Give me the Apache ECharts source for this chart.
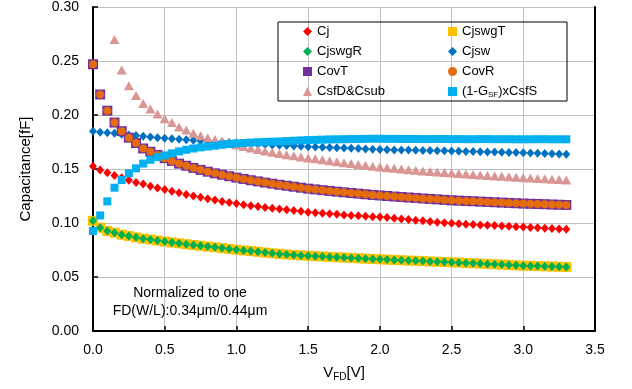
<!DOCTYPE html>
<html>
<head>
<meta charset="utf-8">
<script src="https://cdn.jsdelivr.net/npm/echarts@6/dist/echarts.min.js"></script>
<style>
  html, body { margin: 0; padding: 0; background: #fff; }
  #chart { width: 632px; height: 389px; }
</style>
</head>
<body>
<div id="chart"></div>
<script>
  // V_FD sweep [V]
  const vfd = [
    0.00, 0.05, 0.10, 0.15, 0.20, 0.25, 0.30, 0.35, 0.40, 0.45,
    0.50, 0.55, 0.60, 0.65, 0.70, 0.75, 0.80, 0.85, 0.90, 0.95,
    1.00, 1.05, 1.10, 1.15, 1.20, 1.25, 1.30, 1.35, 1.40, 1.45,
    1.50, 1.55, 1.60, 1.65, 1.70, 1.75, 1.80, 1.85, 1.90, 1.95,
    2.00, 2.05, 2.10, 2.15, 2.20, 2.25, 2.30, 2.35, 2.40, 2.45,
    2.50, 2.55, 2.60, 2.65, 2.70, 2.75, 2.80, 2.85, 2.90, 2.95,
    3.00, 3.05, 3.10, 3.15, 3.20, 3.25, 3.30
  ];

  const cj = [
    0.1525, 0.1490, 0.1466, 0.1440, 0.1420, 0.1395, 0.1375, 0.1360, 0.1340, 0.1325,
    0.1310, 0.1295, 0.1280, 0.1265, 0.1250, 0.1238, 0.1225, 0.1213, 0.1200, 0.1190,
    0.1180, 0.1170, 0.1160, 0.1152, 0.1144, 0.1137, 0.1130, 0.1122, 0.1115, 0.1108,
    0.1100, 0.1095, 0.1090, 0.1085, 0.1080, 0.1075, 0.1070, 0.1066, 0.1062, 0.1059,
    0.1056, 0.1050, 0.1044, 0.1038, 0.1032, 0.1026, 0.1020, 0.1014, 0.1008, 0.1002,
    0.0997, 0.0993, 0.0989, 0.0986, 0.0982, 0.0979, 0.0976, 0.0972, 0.0969, 0.0966,
    0.0963, 0.0959, 0.0955, 0.0951, 0.0948, 0.0944, 0.0941
  ];

  const cjswgT = [
    0.1020, 0.0957, 0.0926, 0.0910, 0.0892, 0.0880, 0.0867, 0.0855, 0.0847, 0.0838,
    0.0828, 0.0820, 0.0812, 0.0804, 0.0796, 0.0789, 0.0782, 0.0775, 0.0768, 0.0759,
    0.0752, 0.0746, 0.0740, 0.0733, 0.0726, 0.0720, 0.0714, 0.0709, 0.0704, 0.0700,
    0.0697, 0.0693, 0.0690, 0.0686, 0.0683, 0.0680, 0.0677, 0.0673, 0.0670, 0.0667,
    0.0664, 0.0661, 0.0658, 0.0655, 0.0652, 0.0650, 0.0647, 0.0644, 0.0641, 0.0639,
    0.0636, 0.0633, 0.0630, 0.0627, 0.0624, 0.0621, 0.0618, 0.0615, 0.0612, 0.0608,
    0.0605, 0.0603, 0.0601, 0.0599, 0.0597, 0.0595, 0.0593
  ];

  const cjswgR = [
    0.1020, 0.0957, 0.0926, 0.0910, 0.0892, 0.0880, 0.0867, 0.0855, 0.0847, 0.0838,
    0.0828, 0.0820, 0.0812, 0.0804, 0.0796, 0.0789, 0.0782, 0.0775, 0.0768, 0.0759,
    0.0752, 0.0746, 0.0740, 0.0733, 0.0726, 0.0720, 0.0714, 0.0709, 0.0704, 0.0700,
    0.0697, 0.0693, 0.0690, 0.0686, 0.0683, 0.0680, 0.0677, 0.0673, 0.0670, 0.0667,
    0.0664, 0.0661, 0.0658, 0.0655, 0.0652, 0.0650, 0.0647, 0.0644, 0.0641, 0.0639,
    0.0636, 0.0633, 0.0630, 0.0627, 0.0624, 0.0621, 0.0618, 0.0615, 0.0612, 0.0608,
    0.0605, 0.0603, 0.0601, 0.0599, 0.0597, 0.0595, 0.0593
  ];

  const cjsw = [
    0.1850, 0.1840, 0.1835, 0.1830, 0.1822, 0.1815, 0.1810, 0.1803, 0.1797, 0.1790,
    0.1784, 0.1780, 0.1775, 0.1770, 0.1766, 0.1762, 0.1757, 0.1753, 0.1749, 0.1745,
    0.1741, 0.1737, 0.1733, 0.1730, 0.1726, 0.1723, 0.1720, 0.1717, 0.1713, 0.1710,
    0.1707, 0.1704, 0.1701, 0.1699, 0.1696, 0.1694, 0.1691, 0.1689, 0.1686, 0.1683,
    0.1680, 0.1679, 0.1677, 0.1676, 0.1675, 0.1673, 0.1672, 0.1671, 0.1669, 0.1668,
    0.1667, 0.1665, 0.1663, 0.1662, 0.1660, 0.1658, 0.1657, 0.1655, 0.1653, 0.1652,
    0.1650, 0.1648, 0.1646, 0.1643, 0.1641, 0.1638, 0.1636
  ];

  const covT = [
    0.2470, 0.2190, 0.2040, 0.1930, 0.1850, 0.1790, 0.1740, 0.1690, 0.1660, 0.1630,
    0.1600, 0.1575, 0.1550, 0.1530, 0.1510, 0.1492, 0.1475, 0.1460, 0.1447, 0.1433,
    0.1420, 0.1408, 0.1396, 0.1385, 0.1374, 0.1364, 0.1354, 0.1345, 0.1336, 0.1327,
    0.1318, 0.1311, 0.1304, 0.1297, 0.1290, 0.1284, 0.1278, 0.1272, 0.1266, 0.1260,
    0.1255, 0.1250, 0.1245, 0.1241, 0.1236, 0.1232, 0.1227, 0.1223, 0.1219, 0.1214,
    0.1210, 0.1207, 0.1204, 0.1201, 0.1198, 0.1195, 0.1192, 0.1189, 0.1186, 0.1183,
    0.1180, 0.1178, 0.1176, 0.1174, 0.1171, 0.1169, 0.1167
  ];

  const covR = [
    0.2470, 0.2190, 0.2040, 0.1930, 0.1850, 0.1790, 0.1740, 0.1690, 0.1660, 0.1630,
    0.1600, 0.1575, 0.1550, 0.1530, 0.1510, 0.1492, 0.1475, 0.1460, 0.1447, 0.1433,
    0.1420, 0.1408, 0.1396, 0.1385, 0.1374, 0.1364, 0.1354, 0.1345, 0.1336, 0.1327,
    0.1318, 0.1311, 0.1304, 0.1297, 0.1290, 0.1284, 0.1278, 0.1272, 0.1266, 0.1260,
    0.1255, 0.1250, 0.1245, 0.1241, 0.1236, 0.1232, 0.1227, 0.1223, 0.1219, 0.1214,
    0.1210, 0.1207, 0.1204, 0.1201, 0.1198, 0.1195, 0.1192, 0.1189, 0.1186, 0.1183,
    0.1180, 0.1178, 0.1176, 0.1174, 0.1171, 0.1169, 0.1167
  ];

  // first points lie above the 0.30 axis max
  const csfD = [
    null, null, null, 0.2700, 0.2417, 0.2270, 0.2180, 0.2107, 0.2055, 0.2010,
    0.1966, 0.1930, 0.1890, 0.1860, 0.1830, 0.1808, 0.1790, 0.1772, 0.1755, 0.1738,
    0.1722, 0.1708, 0.1694, 0.1680, 0.1667, 0.1655, 0.1643, 0.1632, 0.1622, 0.1612,
    0.1603, 0.1594, 0.1585, 0.1576, 0.1567, 0.1558, 0.1550, 0.1542, 0.1534, 0.1526,
    0.1518, 0.1512, 0.1506, 0.1500, 0.1494, 0.1488, 0.1482, 0.1477, 0.1472, 0.1468,
    0.1464, 0.1459, 0.1454, 0.1450, 0.1445, 0.1440, 0.1436, 0.1432, 0.1428, 0.1424,
    0.1420, 0.1417, 0.1413, 0.1410, 0.1406, 0.1402, 0.1398
  ];

  const csfS = [
    0.0926, 0.1070, 0.1200, 0.1327, 0.1398, 0.1460, 0.1506, 0.1550, 0.1585, 0.1610,
    0.1625, 0.1645, 0.1663, 0.1678, 0.1690, 0.1700, 0.1708, 0.1716, 0.1724, 0.1731,
    0.1737, 0.1741, 0.1745, 0.1748, 0.1751, 0.1753, 0.1755, 0.1759, 0.1762, 0.1765,
    0.1768, 0.1770, 0.1772, 0.1774, 0.1775, 0.1776, 0.1777, 0.1778, 0.1779, 0.1780,
    0.1780, 0.1779, 0.1779, 0.1778, 0.1778, 0.1778, 0.1777, 0.1777, 0.1778, 0.1778,
    0.1777, 0.1777, 0.1776, 0.1776, 0.1777, 0.1777, 0.1776, 0.1776, 0.1776, 0.1775,
    0.1775, 0.1775, 0.1776, 0.1776, 0.1775, 0.1775, 0.1775
  ];

  const font = "'Liberation Sans', Arial, sans-serif";
  const pairs = (ys) => vfd.map((x, i) => [x, ys[i]]);

  const chart = echarts.init(document.getElementById("chart"));

  const mk = (name, ys, symbol, size, color) => ({
    name: name,
    type: "scatter",
    data: pairs(ys),
    symbol: symbol,
    symbolSize: size,
    itemStyle: { color: color, opacity: 1 },
    silent: true,
    animation: false,
  });

  const legendText = {
    fontFamily: font, fontSize: 13, color: "#000", lineHeight: 15,
    rich: { sub: { fontFamily: font, fontSize: 8, color: "#000", lineHeight: 15, padding: [6, 0, 0, 0] } },
  };

  const legendFmt = (n) => n === "(1-GSF)xCsfS" ? "(1-G{sub|SF})xCsfS" : n;

  const legendBase = {
    orient: "vertical",
    top: 24,
    padding: 0,
    itemWidth: 9, itemHeight: 9, itemGap: 5,
    textStyle: legendText,
    formatter: legendFmt,
    selectedMode: false,
  };

  chart.setOption({
    backgroundColor: "#fff",
    animation: false,
    grid: { left: 93, right: 37, top: 7, bottom: 58 },
    xAxis: {
      type: "value",
      min: 0, max: 3.5, interval: 0.5,
      name: "{a|V}{b|FD}{a|[V]}",
      nameLocation: "middle",
      nameGap: 33,
      nameTextStyle: {
        rich: {
          a: { fontFamily: font, fontSize: 15, color: "#000" },
          b: { fontFamily: font, fontSize: 10, color: "#000", padding: [8, 0, 0, 0] },
        },
      },
      axisLine: { lineStyle: { color: "#000", width: 2 } },
      axisTick: { inside: true, length: 5, lineStyle: { color: "#000", width: 1.5 } },
      axisLabel: { fontFamily: font, fontSize: 14, color: "#000", margin: 12,
        formatter: (v) => v.toFixed(1) },
      splitLine: { show: true, lineStyle: { color: "#bfbfbf", width: 1 } },
    },
    yAxis: [{
      type: "value",
      min: 0, max: 0.30, interval: 0.05,
      name: "Capacitance[fF]",
      nameLocation: "middle",
      nameGap: 60,
      nameRotate: 90,
      nameTextStyle: { fontFamily: font, fontSize: 15, color: "#000" },
      axisLine: { show: true, lineStyle: { color: "#000", width: 2 } },
      axisTick: { show: true, inside: true, length: 5, lineStyle: { color: "#000", width: 1.5 } },
      axisLabel: { fontFamily: font, fontSize: 14, color: "#000", margin: 14,
        formatter: (v) => v.toFixed(2) },
      splitLine: { show: true, lineStyle: { color: "#bfbfbf", width: 1 } },
    }, {
      type: "value", position: "right", min: 0, max: 0.30,
      axisLine: { show: true, onZero: false, lineStyle: { color: "#000", width: 2 } },
      axisTick: { show: false }, axisLabel: { show: false }, splitLine: { show: false },
    }],
    legend: [
      Object.assign({}, legendBase, { left: 303, data: ["Cj", "CjswgR", "CovT", "CsfD&Csub"] }),
      Object.assign({}, legendBase, { left: 448, data: ["CjswgT", "Cjsw", "CovR", "(1-GSF)xCsfS"] }),
    ],
    graphic: [{
      type: "rect",
      shape: { x: 278, y: 22, width: 289, height: 79 },
      style: { fill: "none", stroke: "#000", lineWidth: 1 },
      z: 1,
    }, {
      type: "text",
      style: {
        x: 190, y: 284,
        text: "Normalized to one\nFD(W/L):0.34μm/0.44μm",
        align: "center",
        font: "14px " + font,
        fill: "#000",
        lineHeight: 18,
      },
      z: 10,
    }],
    series: [
      mk("Cj", cj, "diamond", [8, 9], "#ff0000"),
      mk("CjswgT", cjswgT, "rect", 10, "#ffc000"),
      mk("CjswgR", cjswgR, "diamond", [8, 9], "#00b050"),
      mk("Cjsw", cjsw, "diamond", [8, 9], "#0070c0"),
      mk("CovT", covT, "rect", 10, "#7030a0"),
      mk("CovR", covR, "circle", 8, "#e46c0a"),
      mk("CsfD&Csub", csfD, "triangle", [10, 9], "#d99694"),
      mk("(1-GSF)xCsfS", csfS, "rect", 8, "#00b0f0"),
    ],
  });
</script>
</body>
</html>
